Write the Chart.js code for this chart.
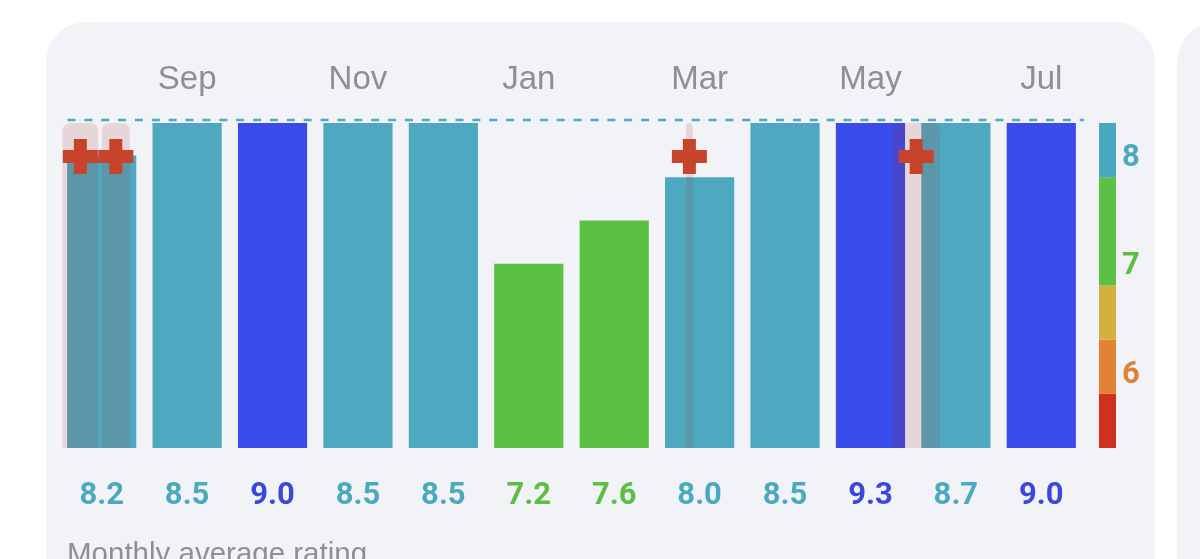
<!DOCTYPE html>
<html><head><meta charset="utf-8">
<script src="https://cdn.jsdelivr.net/npm/chart.js@4.4.1/dist/chart.umd.min.js"></script>
<style>
html,body{margin:0;padding:0;background:#fff;width:1200px;height:559px;overflow:hidden;}
#card{position:absolute;left:46px;top:22px;width:1109px;height:620px;background:#f2f3f7;border-radius:40px;}
#card2{position:absolute;left:1177px;top:22px;width:100px;height:620px;background:#f2f3f7;border-radius:40px;}
#cv{position:absolute;left:0;top:0;}
#caption{position:absolute;left:67px;top:538px;font:29.5px/30px "Liberation Sans",Arial,sans-serif;color:#8e8e93;white-space:nowrap;}
</style></head><body>
<div id="card"></div><div id="card2"></div>
<canvas id="cv" width="1200" height="559"></canvas>
<div id="caption">Monthly average rating</div>
<script>
// ---- data ----
const months = ['Aug','Sep','Oct','Nov','Dec','Jan','Feb','Mar','Apr','May','Jun','Jul'];
const ratings = [8.2, 8.5, 9.0, 8.5, 8.5, 7.2, 7.6, 8.0, 8.5, 9.3, 8.7, 9.0];
const eventStart = [-0.46, 0.00, 6.84, 9.26];   // in month-index units
const eventEnd   = [-0.04, 0.33, 6.92, 9.81];
const eventMarkY = [8.19, 8.19, 8.19, 8.19];
const scaleTicks = [6, 7, 8];
const bandEdges  = [5.5, 6, 6.5, 7, 8, 8.5];
const bandColors = ['#d03020', '#e08334', '#d4b03c', '#5bc146', '#4ca8c2'];
const ratingMin = 5.5, ratingMax = 8.5;

function colorFor(v){
  if (v >= 9) return '#3a4beb';
  if (v >= 8) return '#4ea9c0';
  if (v >= 7) return '#5ac145';
  if (v >= 6.5) return '#d4b03c';
  if (v >= 6) return '#e08334';
  return '#d03020';
}
function textColorFor(v){
  if (v >= 9) return '#3a48dc';
  if (v >= 8) return '#4aa8bf';
  if (v >= 7) return '#5cbf45';
  if (v >= 6) return '#e0833a';
  return '#d03020';
}

function roundTopRect(ctx, x, y, w, h, r){
  r = Math.min(r, w/2);
  ctx.beginPath();
  ctx.moveTo(x, y+h);
  ctx.lineTo(x, y+r);
  ctx.arcTo(x, y, x+r, y, r);
  ctx.lineTo(x+w-r, y);
  ctx.arcTo(x+w, y, x+w, y+r, r);
  ctx.lineTo(x+w, y+h);
  ctx.closePath();
}

const overlay = {
  id: 'overlay',
  beforeDatasetsDraw(chart){
    const {ctx, chartArea: a, scales: {y}} = chart;
    ctx.save();
    for (let i = 0; i < bandColors.length; i++){
      const top = y.getPixelForValue(bandEdges[i+1]);
      const bot = y.getPixelForValue(bandEdges[i]);
      ctx.fillStyle = bandColors[i];
      ctx.fillRect(a.right + 15, top, 17, bot - top);
    }
    ctx.strokeStyle = '#4ea9c0';
    ctx.lineWidth = 2.7;
    ctx.setLineDash([8, 8.87]);
    ctx.lineDashOffset = 8.87 + 8 - 8.5;
    ctx.beginPath();
    ctx.moveTo(a.left, a.top - 3);
    ctx.lineTo(a.right, a.top - 3);
    ctx.stroke();
    ctx.restore();
  },
  beforeDatasetDraw(chart, args){
    if (args.meta.type !== 'scatter') return;
    const {ctx, scales: {xe, y}} = chart;
    ctx.save();
    ctx.fillStyle = 'rgba(170,40,30,0.14)';
    const top = y.getPixelForValue(ratingMax), bot = y.getPixelForValue(ratingMin);
    for (let i = 0; i < eventStart.length; i++){
      const x0 = xe.getPixelForValue(eventStart[i]);
      const x1 = xe.getPixelForValue(eventEnd[i]);
      roundTopRect(ctx, x0, top, x1 - x0, bot - top, 8);
      ctx.fill();
    }
    ctx.restore();
  }
};

new Chart(document.getElementById('cv'), {
  type: 'bar',
  data: {
    labels: months,
    datasets: [
      {
        type: 'bar', order: 1, xAxisID: 'x', yAxisID: 'y',
        data: ratings,
        backgroundColor: ratings.map(colorFor),
        barPercentage: 0.81, categoryPercentage: 1.0,
        grouped: false,
        clip: 0
      },
      {
        type: 'scatter', order: 0, xAxisID: 'xe', yAxisID: 'y',
        data: eventStart.map((s, i) => ({x: (s + eventEnd[i]) / 2, y: eventMarkY[i]})),
        pointStyle: 'cross', pointRadius: 17.5, pointBorderWidth: 13,
        borderColor: '#c8432c', backgroundColor: '#c8432c',
        pointHoverRadius: 17.5
      }
    ]
  },
  options: {
    responsive: false, animation: false, devicePixelRatio: 1,
    layout: {padding: {left: 59, right: 0, top: 0, bottom: 0}},
    plugins: {legend: {display: false}, tooltip: {enabled: false}},
    scales: {
      x: {
        type: 'category', position: 'top', offset: true,
        grid: {display: false, drawTicks: false}, border: {display: false},
        ticks: {
          autoSkip: false, maxRotation: 0, padding: 23, color: '#8e8e93',
          font: {family: '"Liberation Sans", Arial, sans-serif', size: 33},
          callback: (v, i) => (i % 2 === 1 ? months[i] : '')
        },
        afterFit: s => { s.height = 123; }
      },
      xv: {
        type: 'category', position: 'bottom', offset: true,
        labels: ratings.map(v => v.toFixed(1)),
        grid: {display: false, drawTicks: false}, border: {display: false},
        ticks: {
          autoSkip: false, maxRotation: 0, padding: 30,
          color: c => textColorFor(ratings[c.index]),
          font: {family: 'Roboto, "Liberation Sans", sans-serif', weight: 'bold', size: 31}
        },
        afterFit: s => { s.height = 111; }
      },
      xe: {type: 'linear', min: -0.5, max: 11.5, offset: false, display: false, grid: {offset: false}},
      y: {
        type: 'linear', position: 'right', min: ratingMin, max: ratingMax,
        grid: {display: false, drawTicks: false}, border: {display: false},
        afterBuildTicks: s => { s.ticks = scaleTicks.map(v => ({value: v})); },
        ticks: {
          padding: 38, labelOffset: -19,
          color: c => textColorFor(c.tick.value),
          font: {family: 'Roboto, "Liberation Sans", sans-serif', weight: 'bold', size: 31},
          callback: v => String(v)
        },
        afterFit: s => { s.width = 116; }
      }
    }
  },
  plugins: [overlay]
});
</script>
</body></html>
